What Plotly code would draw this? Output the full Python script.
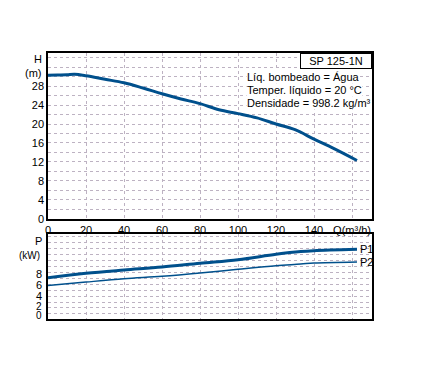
import plotly.graph_objects as go

# Data
q_h = [0, 5, 10, 14, 20, 30, 40, 50, 60, 70, 80, 90, 100, 110, 120, 130, 140, 150, 162.6]
h_m = [30.3, 30.35, 30.4, 30.5, 30.2, 29.45, 28.7, 27.6, 26.4, 25.3, 24.3, 23.0, 22.2, 21.3, 20.0, 18.8, 16.8, 14.9, 12.3]

q_p = [0, 20, 40, 60, 80, 100, 120, 133, 140, 162.6]
p1_kw = [7.3, 8.1, 8.7, 9.25, 9.95, 10.6, 11.6, 12.1, 12.25, 12.5]
p2_kw = [5.85, 6.5, 7.1, 7.55, 8.15, 8.85, 9.5, 9.8, 10.0, 10.2]

x_ticks = [0, 20, 40, 60, 80, 100, 120, 140, 160]
x_ticktext = ["0", "20", "40", "60", "80", "100", "120", "140", "Q(m³/h)"]
h_ticks = [0, 4, 8, 12, 16, 20, 24, 28]
p_ticks = [0, 2, 4, 6, 8]

info_lines = ["Líq. bombeado = Água", "Temper. líquido = 20 °C", "Densidade = 998.2 kg/m³"]
title_box = "SP 125-1N"

LINE = "#00508c"
GRID = "#bdb2c2"
FONT = "Liberation Sans, Arial, sans-serif"

fig = go.Figure()
fig.add_trace(go.Scatter(x=q_h, y=h_m, mode="lines", line=dict(color=LINE, width=3, shape="spline"),
                         xaxis="x", yaxis="y", showlegend=False, hoverinfo="skip"))
fig.add_trace(go.Scatter(x=q_p, y=p1_kw, mode="lines", line=dict(color=LINE, width=3, shape="spline"),
                         xaxis="x2", yaxis="y2", showlegend=False, hoverinfo="skip"))
fig.add_trace(go.Scatter(x=q_p, y=p2_kw, mode="lines", line=dict(color=LINE, width=1.5, shape="spline"),
                         xaxis="x2", yaxis="y2", showlegend=False, hoverinfo="skip"))

XMAX = 170.5
common_x = dict(range=[0, XMAX], showline=True, linecolor="black", linewidth=1.5, mirror=True,
                showgrid=True, gridcolor=GRID, griddash="dot", gridwidth=1, zeroline=False,
                tickvals=x_ticks, ticks="", tickfont=dict(size=11, color="black"))

annotations = []
# top y labels
annotations.append(dict(text="H", x=-0.012, xref="paper", y=33.75, yref="y", xanchor="right",
                        yanchor="middle", showarrow=False, font=dict(size=11, color="black")))
annotations.append(dict(text="(m)", x=-0.012, xref="paper", y=30.8, yref="y", xanchor="right",
                        yanchor="middle", showarrow=False, font=dict(size=11, color="black")))
# bottom y labels
annotations.append(dict(text="P", x=-0.012, xref="paper", y=14.1, yref="y2", xanchor="right",
                        yanchor="middle", showarrow=False, font=dict(size=11, color="black")))
annotations.append(dict(text="(kW)", x=-0.018, xref="paper", y=11.4, yref="y2", xanchor="right",
                        yanchor="middle", showarrow=False, font=dict(size=10, color="black")))
label_pos = {0: 0.35, 2: 1.95, 4: 4, 6: 6, 8: 8}
for v in p_ticks:
    annotations.append(dict(text=str(v), x=-0.012, xref="paper", y=label_pos[v], yref="y2", xanchor="right",
                            yanchor="middle", showarrow=False,
                            font=dict(size=11 if v > 2 else 10, color="black")))
# info texts
for i, t in enumerate(info_lines):
    annotations.append(dict(text=t, x=104.2, xref="x", y=29.96 - i * 2.75, yref="y", xanchor="left",
                            yanchor="middle", showarrow=False, bgcolor="white", borderpad=0,
                            font=dict(size=11, color="black")))
# model box
annotations.append(dict(text=title_box, x=1, xref="paper", y=1, yref="paper", xanchor="right",
                        yanchor="top", showarrow=False, bgcolor="white", bordercolor="black",
                        borderwidth=1, width=70, height=14, borderpad=0,
                        font=dict(size=11, color="black")))
# curve labels
annotations.append(dict(text="P1", x=q_p[-1], xref="x2", y=p1_kw[-1], yref="y2", xanchor="left",
                        xshift=1, yanchor="middle", showarrow=False, font=dict(size=11, color="black")))
annotations.append(dict(text="P2", x=q_p[-1], xref="x2", y=p2_kw[-1], yref="y2", xanchor="left",
                        xshift=1, yanchor="middle", showarrow=False, font=dict(size=11, color="black")))

fig.update_layout(
    width=426, height=384,
    margin=dict(l=48, r=54, t=53, b=65),
    paper_bgcolor="white", plot_bgcolor="white",
    font=dict(family=FONT, size=11, color="black"),
    xaxis=dict(**common_x, ticktext=x_ticktext, anchor="y", showticklabels=True),
    yaxis=dict(domain=[0.377, 1], range=[0, 35], showline=True, linecolor="black", linewidth=1.5,
               mirror=True, tickvals=h_ticks, ticks="", showgrid=True, gridcolor=GRID, griddash="dot",
               zeroline=False, tickfont=dict(size=11, color="black"),
               minor=dict(dtick=2, tick0=0, showgrid=True, gridcolor=GRID, griddash="dot", ticks="")),
    xaxis2=dict(**common_x, anchor="y2", showticklabels=False),
    yaxis2=dict(domain=[0, 0.3195], range=[-0.28, 15.32], showline=True, linecolor="black", linewidth=1.5,
                mirror=True, tickmode="linear", tick0=0.64, dtick=1.1, showticklabels=False, ticks="",
                showgrid=True, gridcolor=GRID, griddash="dot", zeroline=False),
    annotations=annotations,
)

fig.write_html("out.html")
